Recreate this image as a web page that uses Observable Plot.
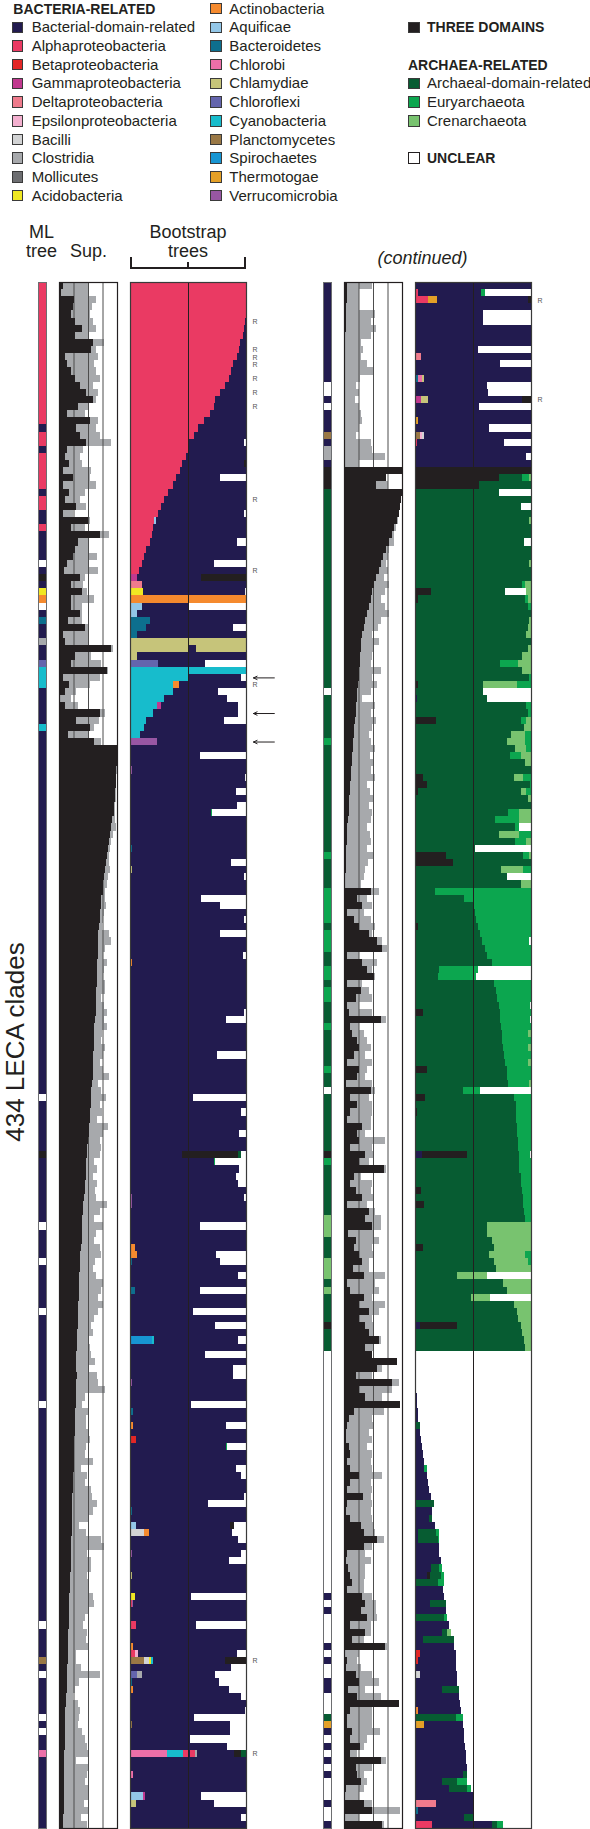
<!DOCTYPE html>
<html>
<head>
<meta charset="utf-8">
<script src="https://cdn.jsdelivr.net/npm/d3@7"></script>
<script src="https://cdn.jsdelivr.net/npm/@observablehq/plot@0.6"></script>
<style>
html,body{margin:0;padding:0;background:#fff;}
#fig{position:relative;width:590px;height:1829px;overflow:hidden;font-family:"Liberation Sans",Arial,Helvetica,sans-serif;color:#231f20;}
.sw{position:absolute;width:11.5px;height:11.5px;box-sizing:border-box;border:1px solid #3a3a3a;}
.lt{position:absolute;font-size:15px;line-height:14px;white-space:nowrap;}
.hd{position:absolute;font-size:14px;font-weight:bold;line-height:14px;white-space:nowrap;}
.col{position:absolute;font-size:18px;line-height:19px;text-align:center;white-space:nowrap;transform:translateX(-50%);}
.pl{position:absolute;}
</style>
</head>
<body>
<div id="fig"></div>
<script>
// ---------------- categories ----------------
const categories = [
  {code:"n", name:"Bacterial-domain-related", color:"#221b4f"},
  {code:"a", name:"Alphaproteobacteria", color:"#ea3a63"},
  {code:"b", name:"Betaproteobacteria", color:"#e32726"},
  {code:"g", name:"Gammaproteobacteria", color:"#c1398f"},
  {code:"d", name:"Deltaproteobacteria", color:"#ef7b8c"},
  {code:"e", name:"Epsilonproteobacteria", color:"#f3b0cf"},
  {code:"c", name:"Bacilli", color:"#d2d3d4"},
  {code:"o", name:"Clostridia", color:"#a7a9ac"},
  {code:"m", name:"Mollicutes", color:"#6d6e71"},
  {code:"y", name:"Acidobacteria", color:"#f0e823"},
  {code:"t", name:"Actinobacteria", color:"#f58a2e"},
  {code:"q", name:"Aquificae", color:"#93c7e8"},
  {code:"r", name:"Bacteroidetes", color:"#0d6f8e"},
  {code:"h", name:"Chlorobi", color:"#ec6fa8"},
  {code:"l", name:"Chlamydiae", color:"#c6c47a"},
  {code:"x", name:"Chloroflexi", color:"#6465ad"},
  {code:"k", name:"Cyanobacteria", color:"#17bccc"},
  {code:"p", name:"Planctomycetes", color:"#9a7845"},
  {code:"s", name:"Spirochaetes", color:"#1795d2"},
  {code:"z", name:"Thermotogae", color:"#e4a027"},
  {code:"v", name:"Verrucomicrobia", color:"#9857a3"},
  {code:"T", name:"THREE DOMAINS", color:"#231f20"},
  {code:"A", name:"Archaeal-domain-related", color:"#075c32"},
  {code:"E", name:"Euryarchaeota", color:"#0ca64f"},
  {code:"C", name:"Crenarchaeota", color:"#78c36f"},
  {code:"u", name:"UNCLEAR", color:"#ffffff"}
];
const legendCol1 = ["n","a","b","g","d","e","c","o","m","y"];
const legendCol2 = ["t","q","r","h","l","x","k","p","s","z","v"];
const legendCol3 = ["A","E","C"];

// ---------------- ML tree assignments (runs of rows) ----------------
const mlLeftRuns = [["a",20],["n",1],["a",2],["n",1],["a",5],["n",1],["a",2],["n",2],["a",1],["n",4],["u",1],["n",1],["T",1],["n",1],["y",1],["t",1],["u",1],["n",1],["r",1],["n",2],["o",1],["n",2],["x",1],["k",3],["n",5],["k",1],["n",51],["u",1],["n",7],["T",1],["n",9],["u",1],["n",4],["u",1],["n",6],["u",1],["n",12],["u",1],["n",30],["u",1],["n",4],["p",1],["n",1],["u",1],["n",5],["u",1],["n",1],["u",1],["n",2],["h",1],["n",10]];
const mlRightRuns = [["n",14],["u",2],["n",1],["u",1],["n",3],["p",1],["n",1],["o",2],["n",1],["T",3],["A",28],["u",1],["A",6],["E",1],["A",15],["E",1],["A",4],["E",5],["A",1],["E",3],["A",2],["E",2],["A",1],["E",2],["A",3],["E",1],["A",5],["E",1],["A",2],["u",1],["A",8],["T",1],["E",1],["A",7],["C",3],["A",3],["C",3],["A",1],["C",1],["A",4],["T",1],["A",3],["u",34],["n",1],["u",1],["n",1],["u",4],["n",1],["u",1],["n",1],["u",2],["n",2],["u",3],["A",1],["z",1],["n",1],["u",1],["n",1],["u",1],["n",1],["u",1],["n",1],["u",3],["n",1],["u",2],["n",1]];

// ---------------- Support (% black = strict, % gray = extended) ----------------
const supBlackLeft = [
 7,4,25,24,21,27,39,27,59,56,10,13,21,27,36,47,59,33,13,53,30,36,47,13,10,18,7,24,7,18,10,30,7,50,21,70,
 33,27,24,13,8,36,21,39,20,21,36,16,44,7,10,90,27,20,83,7,18,10,1,10,70,30,53,16,61,
 100,100,100,99,98,98,97,96,95,94, 92,90,88,86,84,83,81,80,78,76, 75,73,72,71,70,69,68,68,67,67,
 66,66,65,65,64,64,63,63,62,61, 61,60,60,59,59,58,58,57,56,56, 55,54,53,52,51,50,49,48,47,47,
 46,45,44,43,41,41,40,40,39,39, 38,37,37,36,35,35,34,34,33,33, 32,32,31,31,31,30,30,29,31,30,
 30,29,29,28,28,27,27,26,26,25, 25,25,24,24,24,23,23,23,22,22, 22,21,21,20,20,20,19,19,19,18,
 18,18,17,17,16,16,15,15,15,14, 14,13,13,12,12,11,11,11,10,10, 10,9,9,9,9,8,8,8,8,8, 7,7];
const supGrayLeft = [
 50,50,64,57,53,59,64,50,77,64,67,61,64,70,59,67,64,50,44,67,64,70,90,41,36,39,56,53,64,44,36,47,24,53,44,87,
 50,52,66,50,67,44,41,48,60,39,40,39,50,50,50,93,56,73,84,70,53,29,21,33,80,69,61,50,73,
 100,100,100,100,99,99,98,98,97,97, 96,98,93,90,88,86,87,88,84,83, 80,79,81,78,76,74,86,90,79,76,
 83,77,75,80,79,72,78,83,77,82, 74,72,79,76,70,75,86,68,72,81, 70,74,66,85,76,70,72,70,60,65,
 58,66,62,63,82,71,60,75,64,61, 70,72,62,58,64,75,73,67,76,68, 60,55,59,50,54,56,62,51,65,68,
 80,45,40,50,46,47,52,53,46,45, 58,38,49,44,56,57,66,59,52,34, 46,73,78,49,55,56,48,52,50,59,
 60,52,45,42,49,47,51,30,29,38, 70,34,28,24,33,36,34,32,40,44, 49,50,29,50,48,45,50,50,43,50, 38,49];
const supBlackRight = [
 6,5,5,4,4,3,3,2,2,2,1,1,1,1,0,0,0,0,0,0,0,0,0,0,0,0,
 100,72,55,
 100,98,96,94,91,87,82,77,72,68,64,60,56,52,49,46,43,40,37,34,
 31,30,29,28,27,26,25,24,23,22,21,20,19,18,17,16,15,14,13,12,12,11,10,9,9,8,7,6,6,5,4,4,3,3,2,2,
 46,23,31,6,17,26,43,57,66,6,31,40,51,6,29,20,6,9,63,11,14,23,
 26,17,6,26,23,3,46,11,23,11,6,31,23,26,11,37,26,69,17,11,20,31,6,43,37,49,7,20,17,26,31,16,34,6,11,34,26,43,26,37,43,60,37,49,91,57,20,83,26,37,96,17,9,5,3,
 3,9,11,6,11,26,11,5,33,5,3,10,29,34,57,34,5,3,7,11,14,5,31,37,29,39,11,37,14,71,0,6,3,20,26,7,23,94,11,6,5,13,11,27,11,63,20,23,29,3,0,34,49,0,66];
const supGrayRight = [
 49,26,26,26,53,46,56,46,29,33,29,40,51,27,20,26,19,26,30,31,25,21,46,49,71,26,
 100,72,75,
 100,99,97,95,93,90,87,87,78,76,73,75,69,78,70,63,70,78,63,58,
 49,60,52,49,46,63,49,57,46,31,53,47,56,49,43,46,53,44,50,47,54,40,45,52,43,49,46,39,44,47,40,51,41,37,34,30,
 60,40,49,34,46,54,49,66,74,26,57,49,54,31,43,49,26,49,73,26,34,40,
 46,37,49,40,37,49,54,43,49,49,46,46,37,71,49,51,43,73,29,49,46,51,40,54,63,63,51,60,49,51,43,43,71,54,60,49,71,60,49,51,51,63,51,49,91,66,49,94,83,66,96,69,49,51,43,
 49,40,49,46,49,66,46,49,46,49,46,49,51,54,69,49,37,46,37,37,34,34,49,56,56,57,46,47,34,74,26,23,29,49,60,37,63,94,49,49,49,62,40,34,23,73,49,34,40,34,26,49,96,26,69];

// ---------------- Bootstrap composition (percent of 100 trees, left to right) ----------------
const bootDefault = "n100";
const bootLeftRows = [
 [0,"a100"],[1,"a100"],[2,"a100"],[3,"a100"],[4,"a100"],[5,"a99 n1"],[6,"a98 n2"],[7,"a97 n3"],[8,"a95 n5"],[9,"a94 n6"],
 [10,"a92 n8"],[11,"a89 n11"],[12,"a87 n13"],[13,"a85 n15"],[14,"a82 n18"],[15,"a78 n22"],[16,"a73 n27"],[17,"a72 n28"],[18,"a69 n31"],[19,"a64 n36"],
 [20,"a59 n41"],[21,"a55 n45"],[22,"a51 n47 u2"],[23,"a51 n49"],[24,"a48 n52"],[25,"a45 n53 T2"],[26,"a43 n57"],[27,"a40 n38 u22"],[28,"a37 n63"],[29,"a33 n67"],
 [30,"a29 n71"],[31,"a27 n73"],[32,"a24 n74 u2"],[33,"a21 q1 n78"],[34,"a20 n80"],[35,"a19 n81"],[36,"a17 n75 u8"],[37,"a14 n86"],[38,"a12 n88"],[39,"a10 n62 u28"],
 [40,"a8 n92"],[41,"g6 n55 T39"],[42,"d10 n90"],[43,"y11 n88 u1"],[44,"t100"],[45,"q10 n41 u49"],[46,"q6 n94"],[47,"r17 n83"],[48,"r14 n75 u11"],[49,"r6 n94"],
 [50,"l100"],[51,"l51 n6 l43"],[52,"l6 n94"],[53,"x24 n41 u35"],[54,"k100"],[55,"k51 n45 u4"],[56,"k37 t5 n58"],[57,"k37 n39 u24"],[58,"k29 n55 u16"],[59,"k23 g4 n66 u7"],
 [60,"k20 n73 u7"],[61,"k14 n67 u19"],[62,"k12 n88"],[63,"k9 n91"],[64,"v23 n77"],[66,"n60 u40"],[68,"v2 n98"],[69,"n99 u1"],[71,"n91 u9"],[73,"n92 u8"],
 [74,"n70 E1 u29"],[79,"r2 n98"],[81,"n87 u13"],[82,"l2 n98"],[83,"n98 u2"],[86,"n61 u39"],[87,"n78 u22"],[89,"n98 u2"],[91,"n78 u22"],[94,"n97 u3"],
 [95,"t2 n98"],[101,"t1 n99"],[102,"n98 u2"],[103,"n83 u17"],[108,"n75 u25"],[114,"n54 u46"],[116,"n96 u4"],[119,"n94 u6"],[122,"n45 T48 A3 u4"],[123,"n72 E1 u27"],
 [124,"n94 u6"],[125,"n91 u9"],[126,"n93 u7"],[128,"v2 n96 u2"],[129,"v2 n98"],[132,"n60 u40"],[135,"t4 n96"],[136,"t6 n68 u26"],[137,"r2 n76 u22"],[139,"n93 u7"],
 [141,"r4 n56 u40"],[144,"n54 u46"],[146,"t1 n72 u27"],[148,"s19 k2 n72 u7"],[150,"v1 n64 u35"],[152,"n89 u11"],[153,"n89 u11"],[154,"v2 n98"],[157,"n53 u47"],[158,"r3 n97"],
 [160,"t3 n80 u17"],[162,"b5 n95"],[163,"n83 E1 u16"],[166,"n91 u9"],[167,"n96 u4"],[169,"v1 n99"],[170,"v1 n97 u2"],[171,"n67 u33"],[172,"r2 n98"],[173,"t1 n99"],
 [174,"q5 n81 T4 u10"],[175,"c12 t4 n72 u12"],[176,"n93 u7"],[178,"v2 n94 u4"],[179,"r1 n84 u15"],[181,"l2 n98"],[184,"y4 n49 u47"],[185,"a2 v1 n97"],[188,"a5 n52 u43"],[191,"t3 n97"],
 [192,"a4 e3 n85 u8"],[193,"p12 c4 y2 k2 n62 T18"],[194,"n87 u13"],[195,"x6 o4 n63 u27"],[196,"r2 n75 u23"],[197,"t3 n82 u15"],[198,"n96 u4"],[200,"n99 u1"],[201,"n55 u45"],[202,"p2 n84 u14"],
 [203,"n86 u14"],[204,"n52 u48"],[205,"n84 u16"],[206,"h32 k14 a4 n2 a4 o2 n32 T6 A4"],[209,"h3 n97"],[212,"q11 g2 n48 u39"],[213,"l5 n67 u28"],[215,"n96 u4"]
];
const bootRightRows = [
 [1,"a3 n54 E3 u40"],[2,"a11 z8 n78 T3"],[4,"n59 u41"],[5,"n59 u41"],[8,"r1 n99"],[9,"n54 u46"],[10,"d5 n95"],[11,"n73 u27"],[13,"r3 h3 l2 n92"],[14,"q1 n61 u38"],
 [15,"n63 u37"],[16,"g5 l6 n81 T8"],[17,"r1 n54 u45"],[18,"s1 n99"],[19,"z3 n97"],[20,"n64 u36"],[21,"p4 e2 c2 n92"],[22,"a2 n75 u23"],[24,"v1 n95 u4"],[25,"t1 n99"],
 [26,"T100"],[27,"T72 A20 E6 C2"],[28,"T55 A45"],[29,"A72 u28"],[30,"A100"],[31,"A91 u9"],[32,"A100"],[33,"A98 C2"],[34,"A100"],[35,"A100"],
 [36,"A94 u6"],[37,"A100"],[38,"A100"],[39,"A98 C2"],[40,"A100"],[41,"A100"],[42,"A92 E3 C5"],[43,"T14 A64 u18 C4"],[44,"T3 A92 E2 C3"],[45,"A97 E3"],
 [46,"A100"],[47,"A98 C2"],[48,"A97 C3"],[49,"A96 C4"],[50,"A100"],[51,"A97 C3"],[52,"A92 C8"],[53,"A73 E16 C11"],[54,"A92 C8"],[55,"A98 E2"],
 [56,"T3 A56 C29 E12"],[57,"A59 u41"],[58,"n2 A60 u38"],[59,"A96 E4"],[60,"A97 E3"],[61,"T18 A73 E5 C4"],[62,"A94 C6"],[63,"A83 C12 E5"],[64,"A79 C16 E5"],[65,"A86 C10 E4"],
 [66,"A82 E9 C9"],[67,"A95 C5"],[68,"A100"],[69,"T7 A78 C8 E7"],[70,"T10 A89 E1"],[71,"T3 A88 C5 E4"],[72,"A97 C3"],[73,"A100"],[74,"A80 E10 C10"],[75,"A69 E21 C10"],
 [76,"A86 E4 u10"],[77,"A72 C18 E10"],[78,"A86 E10 C4"],[79,"A52 u48"],[80,"n1 T26 A66 E5 C2"],[81,"T33 A67"],[82,"A74 C19 E7"],[83,"A79 u21"],[84,"A91 C9"],[85,"A17 E83"],
 [86,"A42 E58"],[87,"A50 E50"],[88,"A52 E48"],[89,"A53 E47"],[90,"T3 A51 E46"],[91,"A56 E44"],[92,"A58 E40 u2"],[93,"A60 E40"],[94,"A62 E38"],[95,"A66 E34"],
 [96,"A21 E33 u46"],[97,"A20 E33 u47"],[98,"A68 E32"],[99,"A70 E30"],[100,"A71 E29"],[101,"A72 E27 u1"],[102,"T7 A66 E27"],[103,"A73 E26 u1"],[104,"A74 E26"],[105,"A75 E22 C3"],
 [106,"A75 E25"],[107,"A76 E21 C3"],[108,"A77 E23"],[109,"A78 E19 C3"],[110,"T10 A69 E21"],[111,"A79 E21"],[112,"A80 E18 C2"],[113,"A41 E15 u44"],[114,"T9 A76 E15"],[115,"A87 E13"],
 [116,"T2 A85 E13"],[117,"A87 E13"],[118,"A88 E12"],[119,"A88 E12"],[120,"A89 E11"],[121,"A89 E11"],[122,"n6 T39 A45 E9 u1"],[123,"A90 E10"],[124,"A90 E10"],[125,"A91 E9"],
 [126,"A91 E9"],[127,"T5 A87 E8"],[128,"A93 E7"],[129,"T8 A85 E7"],[130,"A94 E6"],[131,"A95 E5"],[132,"A62 C38"],[133,"A62 C38"],[134,"A66 C34"],[135,"T7 A61 C32"],
 [136,"A64 C31 E5"],[137,"A68 C29 E3"],[138,"A70 C30"],[139,"A36 C26 u38"],[140,"A76 C24"],[141,"A79 C21"],[142,"A48 C17 u35"],[143,"A85 C15"],[144,"A88 C12"],[145,"A89 C11"],
 [146,"n4 T32 A55 C9"],[147,"A92 C8"],[148,"A94 C6"],[149,"A95 C5"],[150,"u100"],[151,"u100"],[152,"u100"],[153,"u100"],[154,"u100"],[155,"n1 u99"],
 [156,"n2 u98"],[157,"n2 u98"],[158,"n3 u97"],[159,"n3 u97"],[160,"n1 A3 u96"],[161,"n4 u96"],[162,"n5 u95"],[163,"n6 u94"],[164,"n7 u93"],[165,"n8 u92"],
 [166,"n8 E2 u90"],[167,"n10 u90"],[168,"n11 u89"],[169,"n12 u88"],[170,"n14 u86"],[171,"n1 A15 u84"],[172,"n15 u85"],[173,"n12 A3 u85"],[174,"n17 u83"],[175,"n3 A15 E3 u79"],
 [176,"n3 A17 E1 u79"],[177,"r1 n20 u79"],[178,"n21 u79"],[179,"n22 u78"],[180,"n14 A7 E2 u77"],[181,"n10 T3 A9 E3 u75"],[182,"n1 A19 E5 u75"],[183,"n24 u76"],[184,"n25 u75"],[185,"n13 A14 u73"],
 [186,"n27 u73"],[187,"n1 A24 E3 u72"],[188,"n29 u71"],[189,"n23 A5 C3 u69"],[190,"n7 A27 u66"],[191,"n34 u66"],[192,"b4 n31 u65"],[193,"b3 n32 u65"],[194,"n35 u65"],[195,"c4 n32 u64"],
 [196,"n36 u64"],[197,"n23 A15 u62"],[198,"n38 u62"],[199,"n39 u61"],[200,"t3 n37 u60"],[201,"A35 E6 u59"],[202,"z8 n33 u59"],[203,"n42 u58"],[204,"n42 u58"],[205,"n43 u57"],
 [206,"n44 u56"],[207,"n44 u56"],[208,"n45 u55"],[209,"n41 A4 u55"],[210,"n23 A13 E9 u55"],[211,"n29 A16 E3 u52"],[212,"n50 u50"],[213,"d18 n32 u50"],[214,"r3 n47 u50"],[215,"n42 A9 u49"],
 [216,"a15 n51 A5 E5 u24"]
];
const rLeft = [5,9,10,11,13,15,17,30,40,56,193,206];
const rRight = [2,16];
const arrowLeft = [55,60,64];

// ---------------- helpers ----------------
const N = 217;
const rowIdx = d3.range(N);
const H = 1546;
const TOP = 282;
const COLOR = Object.fromEntries(categories.map(c => [c.code, c.color]));
const NAME = Object.fromEntries(categories.map(c => [c.code, c.name]));
const FONT = '"Liberation Sans", Arial, sans-serif';

function expandRuns(runs) {
  const out = [];
  for (const [c, k] of runs) for (let i = 0; i < k; i++) out.push(c);
  if (out.length !== N) console.warn("runs length", out.length);
  return out;
}
function bootSegments(rowsSpec) {
  const spec = new Map(rowsSpec);
  const segs = [];
  for (const row of rowIdx) {
    const s = spec.get(row) || bootDefault;
    let acc = 0;
    for (const tok of s.split(" ")) {
      const c = tok[0], v = +tok.slice(1);
      segs.push({row, c, x1: acc, x2: acc + v});
      acc += v;
    }
  }
  return segs;
}
const yScale = {type: "band", domain: rowIdx, range: [0, H], padding: 0, round: false, axis: null};
const plotStyle = {background: "transparent", overflow: "visible", fontFamily: FONT};

const fig = document.getElementById("fig");
function place(el, left, top) {
  el.classList.add("pl");
  el.style.left = left + "px";
  el.style.top = top + "px";
  fig.appendChild(el);
}

function mlPlot(codes) {
  return Plot.plot({
    width: 8, height: H, margin: 0, style: plotStyle,
    x: {domain: [0, 1], axis: null}, y: yScale, color: {type: "identity"},
    marks: [
      Plot.barX(codes.map((c, i) => ({row: i, c})), {x1: 0, x2: 1, y: "row", fill: d => COLOR[d.c], shapeRendering: "crispEdges"}),
      Plot.frame({stroke: "#6d6e71", strokeWidth: 1})
    ]
  });
}
function supPlot(blk, gry) {
  const data = rowIdx.map(i => ({row: i, black: blk[i], gray: Math.max(blk[i], gry[i])}));
  return Plot.plot({
    width: 58, height: H, margin: 0, style: plotStyle,
    x: {domain: [0, 100], axis: null}, y: yScale,
    marks: [
      Plot.barX(data, {x1: 0, x2: "gray", y: "row", fill: "#a7a9ac", shapeRendering: "crispEdges"}),
      Plot.ruleX([25, 50, 75], {stroke: "#4d4d4d", strokeWidth: 1}),
      Plot.barX(data, {x1: 0, x2: "black", y: "row", fill: "#231f20", shapeRendering: "crispEdges"}),
      Plot.frame({stroke: "#231f20", strokeWidth: 1.2})
    ]
  });
}
function bootPlot(rowsSpec, rRows, arrows) {
  return Plot.plot({
    width: 116 + 34, height: H, marginLeft: 0, marginTop: 0, marginBottom: 0, marginRight: 34, style: plotStyle,
    x: {domain: [0, 100], axis: null}, y: yScale, color: {type: "identity"},
    marks: [
      Plot.barX(bootSegments(rowsSpec), {x1: "x1", x2: "x2", y: "row", fill: d => COLOR[d.c], shapeRendering: "crispEdges"}),
      Plot.ruleX([50], {stroke: "#231f20", strokeWidth: 1}),
      Plot.frame({stroke: "#3a3a3a", strokeWidth: 1.2}),
      Plot.text(rRows, {x: 100, y: d => d, text: () => "R", dx: 6, textAnchor: "start", fontSize: 7, fill: "#555"}),
      // annotation arrows pointing at rows, placed just right of the panel (x in % units beyond 100)
      Plot.arrow(arrows, {x1: 124, x2: 106, y1: d => d, y2: d => d, stroke: "#231f20", strokeWidth: 1, headLength: 6, headAngle: 50})
    ]
  });
}

function addDiv(cls, html, left, top, extraStyle) {
  const d = document.createElement("div");
  d.className = cls;
  d.innerHTML = html;
  d.style.left = left + "px";
  d.style.top = top + "px";
  if (extraStyle) Object.assign(d.style, extraStyle);
  fig.appendChild(d);
  return d;
}

// ---------------- legend ----------------
const rowStep = 18.7;
const firstY = 8.6;
function legendItem(code, swLeft, textLeft, cy, bold) {
  addDiv("sw", "", swLeft, cy - 5.75, {background: COLOR[code], borderColor: code === "u" ? "#231f20" : "#3a3a3a"});
  addDiv(bold ? "hd" : "lt", NAME[code], textLeft, cy - 7);
}
addDiv("hd", "BACTERIA-RELATED", 13.3, firstY - 7);
legendCol1.forEach((c, k) => legendItem(c, 11.7, 31.7, firstY + rowStep * (k + 1), false));
legendCol2.forEach((c, k) => legendItem(c, 210, 229.3, firstY + rowStep * k, false));
legendItem("T", 408, 427, firstY + rowStep * 1, true);
addDiv("hd", "ARCHAEA-RELATED", 408, firstY + rowStep * 3 - 7);
legendCol3.forEach((c, k) => legendItem(c, 408, 427, firstY + rowStep * (k + 4), false));
legendItem("u", 408, 427, firstY + rowStep * 8, true);

// ---------------- column headers ----------------
addDiv("col", "ML<br>tree", 41.5, 222.5);
addDiv("col", "Sup.", 88.5, 241.5);
addDiv("col", "Bootstrap<br>trees", 188, 222.5);
addDiv("", "", 130, 257, {position: "absolute", width: "116px", height: "12px", boxSizing: "border-box", borderLeft: "2px solid #231f20", borderRight: "2px solid #231f20", borderBottom: "2px solid #231f20"});
addDiv("", "", 187.3, 262, {position: "absolute", width: "2px", height: "6px", background: "#231f20"});
addDiv("col", "(continued)", 422.5, 248.8, {fontStyle: "italic"});
addDiv("", "434 LECA clades", 15, 1041.7, {position: "absolute", fontSize: "26px", whiteSpace: "nowrap", transform: "translate(-50%,-50%) rotate(-90deg)", lineHeight: "26px"});

// ---------------- panels ----------------
const mlLeft = expandRuns(mlLeftRuns);
const mlRight = expandRuns(mlRightRuns);
const panels = [
  {off: 0, ml: mlLeft, blk: supBlackLeft, gry: supGrayLeft, boot: bootLeftRows, r: rLeft, arrows: arrowLeft},
  {off: 285, ml: mlRight, blk: supBlackRight, gry: supGrayRight, boot: bootRightRows, r: rRight, arrows: []}
];
for (const p of panels) {
  place(mlPlot(p.ml), 38 + p.off, TOP);
  place(supPlot(p.blk, p.gry), 59 + p.off, TOP);
  place(bootPlot(p.boot, p.r, p.arrows), 130 + p.off, TOP);
}
</script>
</body>
</html>
